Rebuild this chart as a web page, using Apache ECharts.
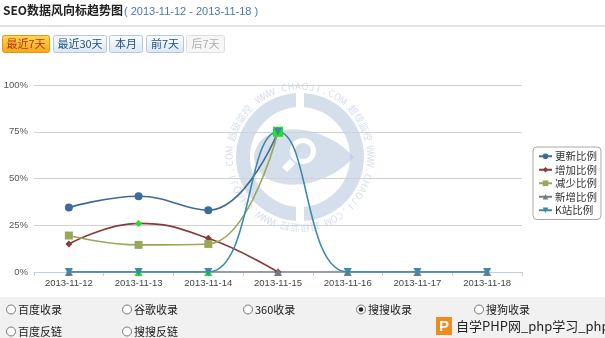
<!DOCTYPE html>
<html><head><meta charset="utf-8">
<script src="https://cdn.jsdelivr.net/npm/echarts@6/dist/echarts.min.js"></script>
<style>html,body{margin:0;padding:0;background:#fff;}#c{width:605px;height:338px;}</style>
</head><body><div id="c"></div>
<script>
var categories = ['2013-11-12','2013-11-13','2013-11-14','2013-11-15','2013-11-16','2013-11-17','2013-11-18'];
var yTicks = [0, 25, 50, 75, 100];
var seriesNames = ['更新比例','增加比例','减少比例','新增比例','K站比例'];
var gengxin = [34.5, 40.5, 33, 75, null, null, null];
var zengjia = [15, 26, 18, 0, null, null, null];
var jianshao = [19.5, 14.5, 15, 75, null, null, null];
var xinzeng = [0, 0, 0, 0, 0, 0, 0];
var kzhan = [0, 0, 0, 75, 0, 0, 0];
var buttons = ['最近7天','最近30天','本月','前7天','后7天'];
var radios1 = ['百度收录','谷歌收录','360收录','搜搜收录','搜狗收录'];
var radios2 = ['百度反链','搜搜反链'];

var font = '"Noto Sans CJK SC","DejaVu Sans",sans-serif';
var lat = '"Liberation Sans",Arial,sans-serif';
var chart = echarts.init(document.getElementById('c'), null, {renderer:'canvas'});

var colors = ['#3d6a98','#8a3a3a','#97a85a','#767a88','#3c8aa6'];
var lime = '#22e022';

function hl(arr, idxs, sz){
  return arr.map(function(v,i){
    if (idxs.indexOf(i) >= 0) return {value:v, itemStyle:{color:lime}, symbolSize: sz};
    return v;
  });
}
function bez(p0,p1,p2,p3,n){
  var pts=[];
  for (var i=0;i<=n;i++){var t=i/n,u=1-t;
    pts.push([u*u*u*p0[0]+3*u*u*t*p1[0]+3*u*t*t*p2[0]+t*t*t*p3[0], u*u*u*p0[1]+3*u*u*t*p1[1]+3*u*t*t*p2[1]+t*t*t*p3[1]]);}
  return pts;
}

var g = [];
var cx = 300, cy = 157, wm = 'rgba(190,205,225,0.65)';
g.push({type:'ring', z:-10, shape:{cx:cx, cy:cy, r:64, r0:50}, style:{fill:wm}});
g.push({type:'rect', z:-9, shape:{x:cx-4, y:cy-66, width:8, height:18}, style:{fill:'#fff'}});
g.push({type:'rect', z:-9, shape:{x:cx-4, y:cy+48, width:8, height:18}, style:{fill:'#fff'}});
var eye = bez([254,157],[256,122],[318,118],[354,157],20).concat(bez([354,157],[318,196],[256,192],[254,157],20));
g.push({type:'polygon', z:-10, shape:{points:eye}, style:{fill:wm}});
g.push({type:'circle', z:-9, shape:{cx:303, cy:151, r:13}, style:{fill:'#fff'}});
g.push({type:'circle', z:-8, shape:{cx:303, cy:151, r:8}, style:{fill:wm}});
g.push({type:'polygon', z:-9, shape:{points:[[290,159],[295,164],[287,172],[282,167]]}, style:{fill:'#fff'}});
var seq = [];
for (var k=0;k<3;k++){
  'WWW.CHAOJI.COM'.split('').forEach(function(ch){seq.push([ch,5.6]);});
  seq.push([' ',4]);
  '超级监控'.split('').forEach(function(ch){seq.push([ch,8.2]);});
  seq.push([' ',4]);
}
var ang = -128;
seq.forEach(function(s){
  var a = ang + s[1]/2;
  var rad = a*Math.PI/180;
  if (s[0] !== ' ') {
    g.push({type:'text', z:-10, x:cx+71*Math.cos(rad), y:cy+71*Math.sin(rad), rotation:-(a+90)*Math.PI/180,
      style:{text:s[0], fill:wm, font:'9.5px '+font, align:'center', verticalAlign:'middle'}});
  }
  ang += s[1];
});

g.push({type:'text', x:3, y:4, style:{text:'SEO数据风向标趋势图', font:'bold 12px '+font, fill:'#222'}});
g.push({type:'text', x:124, y:6, style:{text:'( 2013-11-12 - 2013-11-18 )', font:'11px '+lat, fill:'#4a78a8'}});
g.push({type:'rect', shape:{x:0, y:25, width:605, height:2}, style:{fill:'#e2e2e2'}});
var bx = [[2,47],[53,53],[109,33],[146,37],[186,38]];
buttons.forEach(function(t,i){
  var fill, stroke, tc;
  if (i===0){ fill = {type:'linear',x:0,y:0,x2:0,y2:1,colorStops:[{offset:0,color:'#ffd75a'},{offset:1,color:'#f4a51c'}]}; stroke='#e39a12'; tc='#b8340a'; }
  else if (i===4){ fill='#f6f6f6'; stroke='#dedede'; tc='#b0b0b0'; }
  else { fill = {type:'linear',x:0,y:0,x2:0,y2:1,colorStops:[{offset:0,color:'#fbfdff'},{offset:1,color:'#dbe7f3'}]}; stroke='#b2c6dc'; tc='#1f4f82'; }
  g.push({type:'rect', shape:{x:bx[i][0]+0.5, y:35.5, width:bx[i][1], height:17, r:2}, style:{fill:fill, stroke:stroke, lineWidth:1}});
  g.push({type:'text', x:bx[i][0]+bx[i][1]/2+0.5, y:44, style:{text:t, font:'11px '+font, fill:tc, align:'center', verticalAlign:'middle'}});
});
g.push({type:'rect', z:-20, shape:{x:0, y:297, width:605, height:41}, style:{fill:'#f1f1f1'}});
var r1x = [6,122,243,356,474];
radios1.forEach(function(t,i){
  g.push({type:'circle', shape:{cx:r1x[i]+5, cy:309.5, r:4.5}, style:{fill:'#fff', stroke:'#777', lineWidth:1}});
  if (i===3) g.push({type:'circle', shape:{cx:r1x[i]+5, cy:309.5, r:2.3}, style:{fill:'#222'}});
  g.push({type:'text', x:r1x[i]+12, y:310, style:{text:t, font:'11px '+font, fill:'#222', verticalAlign:'middle'}});
});
var r2x = [6,122];
radios2.forEach(function(t,i){
  g.push({type:'circle', shape:{cx:r2x[i]+5, cy:331.5, r:4.5}, style:{fill:'#fff', stroke:'#777', lineWidth:1}});
  g.push({type:'text', x:r2x[i]+12, y:332, style:{text:t, font:'11px '+font, fill:'#222', verticalAlign:'middle'}});
});
g.push({type:'rect', shape:{x:436, y:317, width:16, height:18}, style:{fill:'#f28a1e'}});
g.push({type:'text', x:444, y:326.5, style:{text:'P', font:'bold 15px '+lat, fill:'#fff', align:'center', verticalAlign:'middle'}});
g.push({type:'text', x:456, y:326.5, style:{text:'自学PHP网_php学习_php教程', font:'13px '+font, fill:'#222', verticalAlign:'middle'}});

var markerMap = ['circle','diamond','rect','triangle','triangle'];
var data = [gengxin, hl(zengjia,[1],7), hl(jianshao,[3],10), hl(xinzeng,[1,2],8), kzhan];
var sizes = [8,7,8,8,8];
var series = seriesNames.map(function(n,i){
  return {name:n, type:'line', data:data[i], smooth:0.45, symbol:markerMap[i], symbolRotate: i===4?180:0,
    symbolSize:sizes[i], showSymbol:true, connectNulls:false,
    lineStyle:{color:colors[i], width:1.6}, itemStyle:{color:colors[i]}};
});

chart.setOption({
  animation:false,
  textStyle:{fontFamily:font},
  graphic: g,
  grid:{left:34, right:83, top:85, bottom:66, containLabel:false},
  legend:{orient:'vertical', left:533, top:147, itemWidth:13, itemHeight:7, itemGap:3,
    backgroundColor:'#fff', borderColor:'#a8a8a8', borderWidth:1, borderRadius:4, padding:[4,4,4,5],
    textStyle:{fontSize:10.5, color:'#333', fontFamily:font, padding:[0,0,0,-2]},
    data: seriesNames},
  xAxis:{type:'category', data:categories, boundaryGap:true,
    axisLine:{lineStyle:{color:'#c2d0de', width:1}},
    axisTick:{show:true, length:4, lineStyle:{color:'#c2d0de'}},
    axisLabel:{color:'#444', fontSize:9.5, fontFamily:lat, margin:6, interval:0}},
  yAxis:{type:'value', min:0, max:100, interval:25,
    axisLine:{show:false}, axisTick:{show:false},
    axisLabel:{color:'#555', fontSize:9.5, fontFamily:lat, formatter:'{value}%', margin:6},
    splitLine:{lineStyle:{color:'#cfd3d8', width:1}}},
  series: series
});
</script></body></html>
